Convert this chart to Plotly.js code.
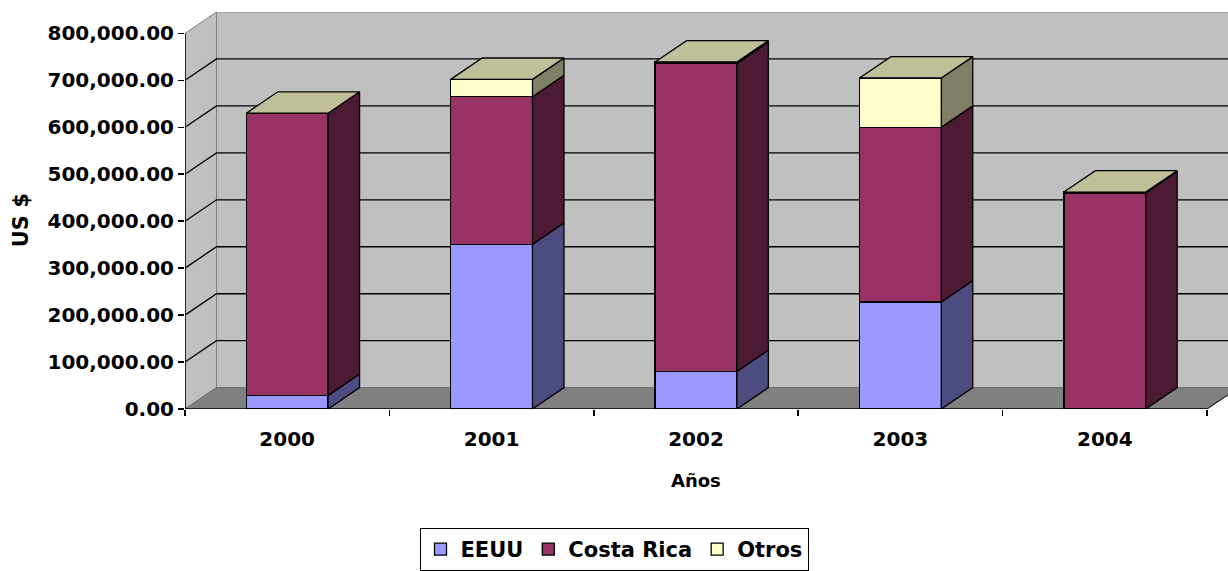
<!DOCTYPE html>
<html>
<head>
<meta charset="utf-8">
<script src="https://cdn.plot.ly/plotly-3.0.1.min.js"></script>
<style>
  html, body { margin: 0; padding: 0; background: #ffffff; }
  #chart { width: 1228px; height: 571px; }
</style>
</head>
<body>
<div id="chart"></div>
<script>
// Exportaciones por destino, US $
const years = ['2000', '2001', '2002', '2003', '2004'];
const eeuu = [29000, 351000, 80000, 228000, 0];
const costaRica = [601000, 314000, 656000, 372000, 460000];
const otros = [0, 37000, 3000, 105000, 2000];
const yTicks = [0, 100000, 200000, 300000, 400000, 500000, 600000, 700000, 800000];

const seriesNames = ['EEUU', 'Costa Rica', 'Otros'];
const seriesValues = [eeuu, costaRica, otros];
const frontColors = ['#9999FF', '#993366', '#FFFFCC'];
const sideColors = ['#4C4C80', '#4D1A33', '#808066'];
const topColor = '#BFBF99';

// geometry of the oblique 3-D box (in data units)
const X0 = -0.5, X1 = 4.5;     // front floor edge
const DX = 0.154;              // depth, horizontal part
const DY = 45500;              // depth, vertical part
const YMAX = 800000;           // top of the value axis
const BARW = 0.4;
const XEND = X0 + 1043 / 204.4;

const FONT = 'DejaVu Sans';

const traces = [];

// front faces of the stacked columns
seriesNames.forEach((name, s) => {
  traces.push({
    type: 'bar',
    name: name,
    x: years.map((_, i) => i),
    y: seriesValues[s],
    width: BARW,
    marker: { color: frontColors[s], line: { color: '#000000', width: 1.3 } },
    hoverinfo: 'skip'
  });
});

// side faces and top faces computed from the same values
years.forEach((yr, i) => {
  let base = 0;
  const xr = i + BARW / 2;
  seriesValues.forEach((vals, s) => {
    const v = vals[i];
    if (v > 0) {
      traces.push({
        type: 'scatter', mode: 'lines', fill: 'toself',
        x: [xr, xr + DX, xr + DX, xr, xr],
        y: [base, base + DY, base + v + DY, base + v, base],
        fillcolor: sideColors[s],
        line: { color: '#000000', width: 1.3 },
        hoverinfo: 'skip', showlegend: false
      });
    }
    base += v;
  });
  const xl = i - BARW / 2;
  traces.push({
    type: 'scatter', mode: 'lines', fill: 'toself',
    x: [xl, xr, xr + DX, xl + DX, xl],
    y: [base, base, base + DY, base + DY, base],
    fillcolor: topColor,
    line: { color: '#000000', width: 1.3 },
    hoverinfo: 'skip', showlegend: false
  });
});

// carrier for the boundary tick axis
traces.push({
  type: 'scatter', mode: 'none', x: [X0], y: [0],
  xaxis: 'x2', hoverinfo: 'skip', showlegend: false
});

// walls, floor and gridlines
const p = (x, y) => x + ',' + y;
const shapes = [];
shapes.push({
  type: 'path', xref: 'x', yref: 'y', layer: 'below',
  path: 'M' + p(X0 + DX, DY) + ' L' + p(XEND + 1, DY) + ' L' + p(XEND + 1, YMAX + DY) +
        ' L' + p(X0 + DX, YMAX + DY) + ' Z',
  fillcolor: '#C0C0C0', line: { color: '#808080', width: 1 }
});
shapes.push({
  type: 'path', xref: 'x', yref: 'y', layer: 'below',
  path: 'M' + p(X0, 0) + ' L' + p(X0 + DX, DY) + ' L' + p(X0 + DX, YMAX + DY) +
        ' L' + p(X0, YMAX) + ' Z',
  fillcolor: '#C0C0C0', line: { color: '#808080', width: 1 }
});
shapes.push({
  type: 'path', xref: 'x', yref: 'y', layer: 'below',
  path: 'M' + p(X0, 0) + ' L' + p(X1, 0) + ' L' + p(X1 + DX, DY) +
        ' L' + p(X0 + DX, DY) + ' Z',
  fillcolor: '#808080', line: { color: '#6E6E6E', width: 1 }
});
yTicks.filter(v => v > 0 && v < YMAX).forEach(v => {
  shapes.push({
    type: 'path', xref: 'x', yref: 'y', layer: 'below',
    path: 'M' + p(X0, v) + ' L' + p(X0 + DX, v + DY) + ' L' + p(XEND + 1, v + DY),
    line: { color: '#000000', width: 1.3 }
  });
});
// axis lines
shapes.push({
  type: 'line', xref: 'x', yref: 'y', layer: 'above',
  x0: X0, y0: 0, x1: X0, y1: YMAX, line: { color: '#000000', width: 1.5 }
});
shapes.push({
  type: 'line', xref: 'x', yref: 'y', layer: 'above',
  x0: X0, y0: 0, x1: X1, y1: 0, line: { color: '#000000', width: 1.5 }
});
shapes.push({
  type: 'line', xref: 'x', yref: 'y', layer: 'below',
  x0: X1, y0: 0, x1: X1 + DX, y1: DY, line: { color: '#000000', width: 1 }
});

const layout = {
  width: 1228, height: 571,
  margin: { l: 185, r: 0, t: 12, b: 160 },
  paper_bgcolor: '#ffffff', plot_bgcolor: '#ffffff',
  font: { family: FONT, size: 20, color: '#000000', weight: 'bold' },
  barmode: 'stack',
  showlegend: true,
  xaxis: {
    range: [X0, XEND], tickvals: years.map((_, i) => i), ticktext: years,
    ticks: 'outside', ticklen: 12, tickcolor: 'rgba(0,0,0,0)',
    showgrid: false, zeroline: false, showline: false, fixedrange: true,
    tickfont: { family: FONT, size: 20, weight: 'bold' }
  },
  xaxis2: {
    overlaying: 'x', anchor: 'y', range: [X0, XEND],
    tickvals: [-0.5, 0.5, 1.5, 2.5, 3.5, 4.5],
    ticks: 'outside', ticklen: 6, tickwidth: 1.5, tickcolor: '#000000',
    showticklabels: false, showgrid: false, zeroline: false, showline: false,
    fixedrange: true
  },
  yaxis: {
    range: [0, YMAX + DY], tickvals: yTicks, tickformat: ',.2f',
    ticks: 'outside', ticklen: 6, tickwidth: 1.5, tickcolor: '#000000',
    showgrid: false, zeroline: false, showline: false, fixedrange: true,
    tickfont: { family: FONT, size: 20, weight: 'bold' }
  },
  shapes: shapes,
  annotations: [
    {
      text: 'US $', textangle: -90, showarrow: false,
      xref: 'paper', yref: 'y', x: (21 - 185) / 1043, y: 402000,
      xanchor: 'center', yanchor: 'middle',
      font: { family: FONT, size: 21, weight: 'bold' }
    },
    {
      text: 'Años', showarrow: false,
      xref: 'x', yref: 'paper', x: 2, y: (411 - 483) / 399,
      xanchor: 'center', yanchor: 'middle',
      font: { family: FONT, size: 18, weight: 'bold' }
    }
  ],
  legend: {
    orientation: 'h', x: (614 - 185) / 1043, xanchor: 'center',
    y: (411 - 531) / 399, yanchor: 'top',
    bordercolor: '#000000', borderwidth: 1, bgcolor: '#ffffff',
    traceorder: 'normal', itemwidth: 30,
    font: { family: FONT, size: 21, weight: 'bold' }
  }
};

Plotly.newPlot('chart', traces, layout, { displayModeBar: false, staticPlot: true });
</script>
</body>
</html>
